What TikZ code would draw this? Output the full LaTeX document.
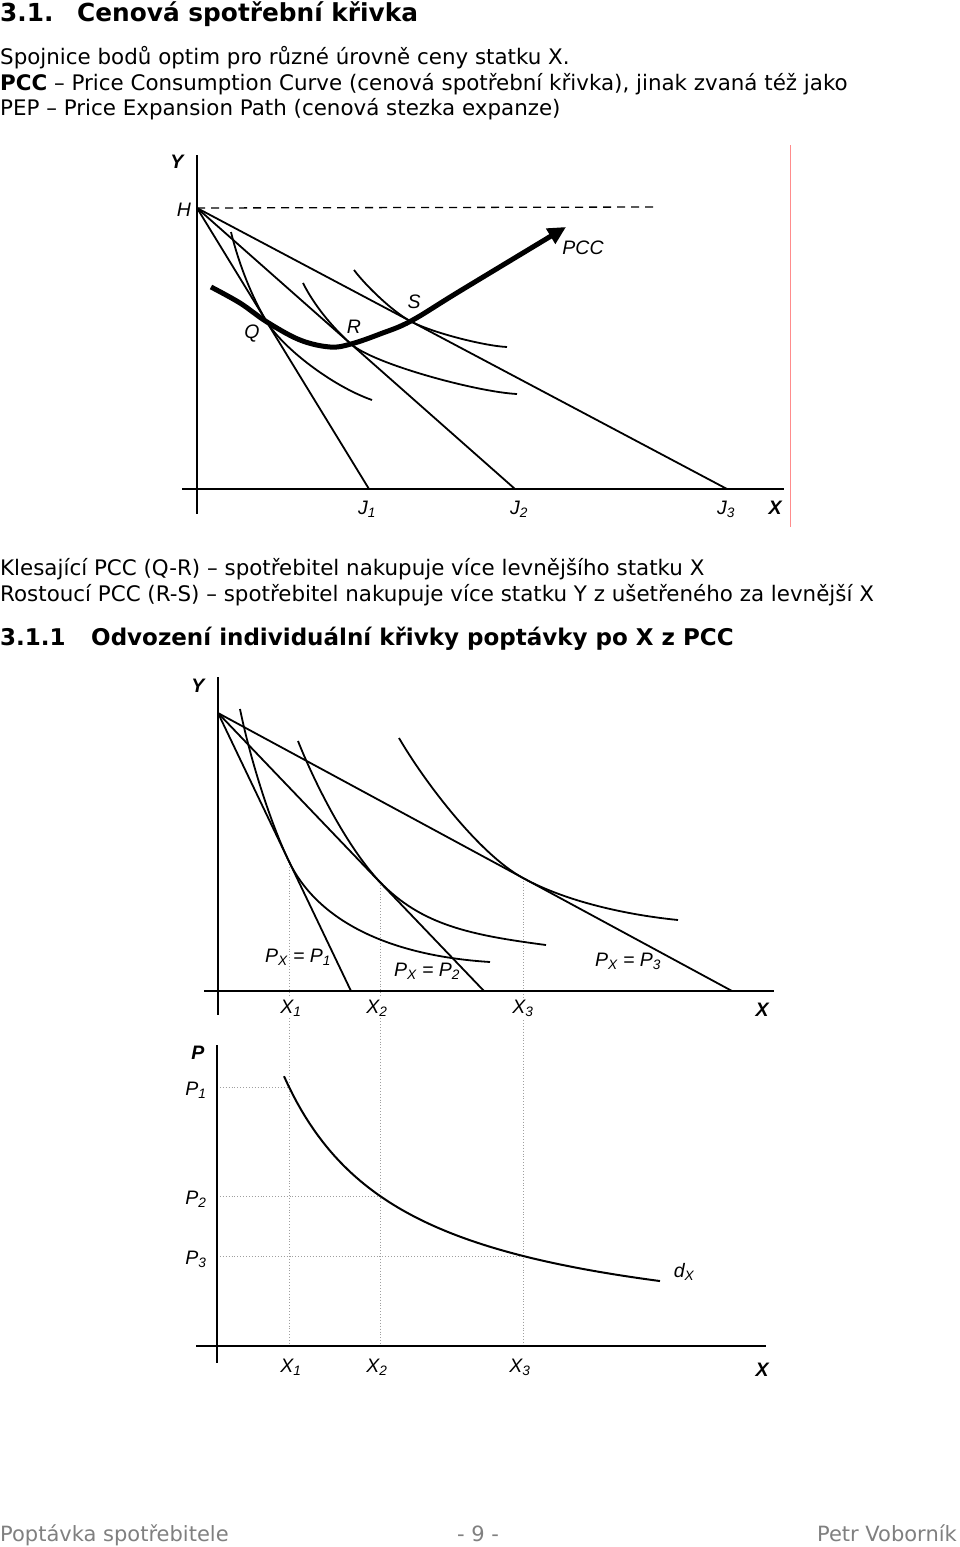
\documentclass[tikz,border=0pt]{standalone}
\usepackage{fontspec}
\setmainfont{DejaVu Sans}
\newfontfamily\chartfont{Liberation Sans}
\usetikzlibrary{arrows.meta}
\tikzset{
  axis/.style   = {line width=1.4pt},
  budget/.style = {line width=1.8pt},
  indiff/.style = {line width=1.8pt},
  pcc/.style    = {line width=5pt, -{Triangle[length=18pt,width=17pt]}},
  guide/.style  = {gray!75, dotted, line width=0.9pt},
  lab/.style    = {inner sep=0pt, font=\chartfont\itshape\fontsize{19.5}{22}\selectfont},
  axlab/.style  = {inner sep=0pt, font=\chartfont\bfseries\itshape\fontsize{19.5}{22}\selectfont},
  txt/.style    = {anchor=base west, inner sep=0pt, font=\fontsize{21.4}{25}\selectfont},
  head/.style   = {anchor=base west, inner sep=0pt, font=\bfseries\fontsize{24.8}{28}\selectfont},
  subhead/.style = {anchor=base west, inner sep=0pt, font=\bfseries\fontsize{23}{27}\selectfont},
  foot/.style   = {inner sep=0pt, text=gray, font=\fontsize{21}{25}\selectfont},
}
\begin{document}
\begin{tikzpicture}[x=1pt,y=-1pt]
  \useasboundingbox[fill=white] (0,0) rectangle (960,1547);

  % texts above the first chart
  \node[head] (h1n) at (0,21)  {3.1.};
  \node[head] (h1)  at (77,21) {Cenová spotřební křivka};
  \node[txt] (t1) at (0,64)  {Spojnice bodů optim pro různé úrovně ceny statku X.};
  \node[txt] (t2) at (0,90)  {\textbf{PCC} – Price Consumption Curve (cenová spotřební křivka), jinak zvaná též jako};
  \node[txt] (t3) at (0,115) {PEP – Price Expansion Path (cenová stezka expanze)};

  % --- chart 1: PCC ---
  \coordinate (H)  at (197,208);
  \coordinate (J1) at (369,489);
  \coordinate (J2) at (515,489);
  \coordinate (J3) at (727,489);
  \coordinate (Q)  at (267,322);
  \coordinate (R)  at (351,344);
  \coordinate (S)  at (411,321.5);
  \draw[red!45, line width=1pt] (790,145) -- (790,527);
  \draw[axis] (197,155) -- (197,514);
  \draw[axis] (182,489) -- (784,489);
  \draw[line width=1.3pt, dash pattern=on 8pt off 6pt] (H) -- (656,207);
  \draw[budget] (H) -- (J1);
  \draw[budget] (H) -- (J2);
  \draw[budget] (H) -- (J3);
  \draw[indiff] (231,232) .. controls (238,261) and (251,296) .. (Q)
                .. controls (283,348) and (332,386) .. (372,400);
  \draw[indiff] (303,283) .. controls (314,305) and (332,327) .. (R)
                .. controls (373.5,364) and (477,392) .. (517,394);
  \draw[indiff] (354,270) .. controls (366,286) and (393,312) .. (S)
                .. controls (433,333) and (485,346) .. (507,347);
  \draw[pcc] plot[smooth, tension=0.6] coordinates {(211,287) (240,303) (267,322) (300,340)
      (330,347) (351,344) (380,334) (411,321) (460,291) (566,227)};
  \node[axlab] (ly1) at (177,162) {Y};
  \node[lab] (lH)  at (184,210) {H};
  \node[lab] (lQ)  at (252,334) {Q};
  \node[lab] (lR)  at (354,327) {R};
  \node[lab] (lS)  at (414,302) {S};
  \node[lab] (lpcc) at (583,248) {PCC};
  \node[lab] (lJ1) at (367,509) {J\textsubscript{1}};
  \node[lab] (lJ2) at (519,509) {J\textsubscript{2}};
  \node[lab] (lJ3) at (726,509) {J\textsubscript{3}};
  \node[axlab] (lx1) at (775,508) {X};

  % texts between the charts
  \node[txt] (t4) at (0,575) {Klesající PCC (Q-R) – spotřebitel nakupuje více levnějšího statku X};
  \node[txt] (t5) at (0,601) {Rostoucí PCC (R-S) – spotřebitel nakupuje více statku Y z ušetřeného za levnější X};
  \node[subhead] (h2n) at (0,645) {3.1.1};
  \node[subhead] (h2)  at (91,645) {Odvození individuální křivky poptávky po X z PCC};

  % --- chart 2: budget lines for three prices ---
  \coordinate (O)  at (218,713);
  \coordinate (B1) at (351,991);
  \coordinate (B2) at (484,991);
  \coordinate (B3) at (732,991);
  \coordinate (T1) at (289,861.5);
  \coordinate (T2) at (380,882);
  \coordinate (T3) at (523,878);
  \draw[guide] (T1) -- (289,1346);
  \draw[guide] (T2) -- (380,1346);
  \draw[guide] (T3) -- (523,1346);
  \draw[axis] (218,677) -- (218,1015);
  \draw[axis] (204,991) -- (774,991);
  \draw[budget] (O) -- (B1);
  \draw[budget] (O) -- (B2);
  \draw[budget] (O) -- (B3);
  \draw[indiff] (240,709) .. controls (250,758) and (269.6,821) .. (T1)
                .. controls (315,915.6) and (380,955) .. (490,962);
  \draw[indiff] (298,741) .. controls (316.5,787.5) and (349,849.5) .. (T2)
                .. controls (421.5,925) and (470,935) .. (546,945);
  \draw[indiff] (399,738) .. controls (424,781) and (479,854) .. (T3)
                .. controls (567,902) and (628,915) .. (678,920);
  \node[axlab] (ly2) at (198,686) {Y};
  \node[lab] (lp1) at (298,957) {P\textsubscript{X} = P\textsubscript{1}};
  \node[lab] (lp2) at (427,971) {P\textsubscript{X} = P\textsubscript{2}};
  \node[lab] (lp3) at (628,961) {P\textsubscript{X} = P\textsubscript{3}};
  \node[lab, fill=white, inner sep=2pt] (lX1) at (291,1008) {X\textsubscript{1}};
  \node[lab, fill=white, inner sep=2pt] (lX2) at (377,1008) {X\textsubscript{2}};
  \node[lab, fill=white, inner sep=2pt] (lX3) at (523,1008) {X\textsubscript{3}};
  \node[axlab] (lx2) at (762,1010) {X};

  % --- chart 3: demand curve ---
  \coordinate (D1) at (289,1087);
  \coordinate (D2) at (380,1196);
  \coordinate (D3) at (523,1256);
  \draw[guide] (217,1087) -- (D1);
  \draw[guide] (217,1196) -- (D2);
  \draw[guide] (217,1256) -- (D3);
  \draw[axis] (217,1045) -- (217,1363);
  \draw[axis] (196,1346) -- (766,1346);
  \draw[line width=2pt] plot[domain=284:660, samples=90] ({\x},{1347-3279.1/((\x-162.9)/10)});
  \node[axlab] (lP)  at (198,1053) {P};
  \node[lab] (lP1) at (196,1090) {P\textsubscript{1}};
  \node[lab] (lP2) at (196,1199) {P\textsubscript{2}};
  \node[lab] (lP3) at (196,1259) {P\textsubscript{3}};
  \node[lab] (ldx) at (684,1272) {d\textsubscript{X}};
  \node[lab] (lX1b) at (291,1367) {X\textsubscript{1}};
  \node[lab] (lX2b) at (377,1367) {X\textsubscript{2}};
  \node[lab] (lX3b) at (520,1367) {X\textsubscript{3}};
  \node[axlab] (lx3) at (762,1370) {X};

  % footer
  \node[foot, anchor=base west] (f1) at (0,1541)   {Poptávka spotřebitele};
  \node[foot, anchor=base]      (f2) at (478,1541) {- 9 -};
  \node[foot, anchor=base east] (f3) at (957,1541) {Petr Voborník};
\end{tikzpicture}
\end{document}
